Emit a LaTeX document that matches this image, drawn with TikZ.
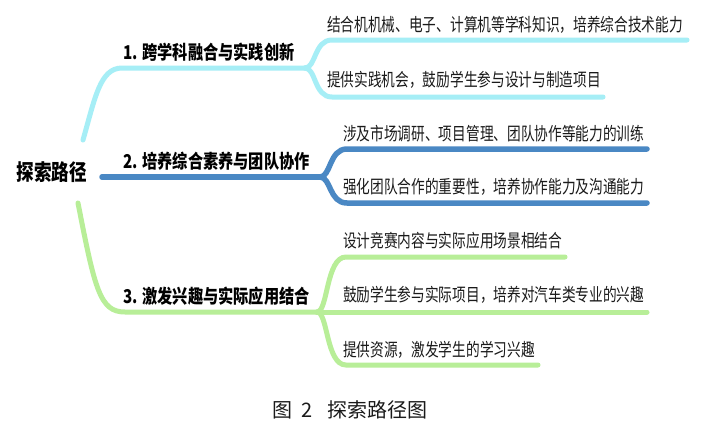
\documentclass[tikz,border=0pt]{standalone}
\usepackage{fontspec}
\newfontfamily\cjk[FakeStretch=0.76]{Noto Sans CJK SC}
\newfontfamily\cjkl[FakeStretch=0.8]{Noto Sans CJK SC}
\newfontfamily\cjkr[FakeStretch=0.8]{Noto Sans CJK SC}
\newfontfamily\cjkc{Noto Sans CJK SC}
\definecolor{cyanl}{HTML}{A6EEF6}
\definecolor{bluel}{HTML}{4A88C4}
\definecolor{greenl}{HTML}{B8EE98}
\definecolor{txt}{HTML}{1A1A1A}
\tikzset{
  leaf/.style={anchor=west, inner sep=0pt, text=txt, font=\cjk\fontsize{18}{18}\selectfont},
  blabel/.style={anchor=west, inner sep=0pt, text=black, font=\cjkl\bfseries\fontsize{19}{19}\selectfont},
  rootn/.style={inner sep=0pt, text=black, font=\cjkr\bfseries\fontsize{22}{22}\selectfont},
  cyanline/.style={draw=cyanl, line width=5pt, line cap=round},
  blueline/.style={draw=bluel, line width=5.5pt, line cap=round},
  greenline/.style={draw=greenl, line width=5pt, line cap=round}
}
\begin{document}
\begin{tikzpicture}[x=1pt,y=-1pt]
\useasboundingbox (0,0) rectangle (709,429);
\fill[white] (0,0) rectangle (709,429);
% root
\node[rootn] (root) at (52,172) {探索路径};
% coordinates
\coordinate (r1) at (83,140);
\coordinate (r2) at (102,177);
\coordinate (r3) at (78,203);
\coordinate (f1) at (305,68);
\coordinate (f2) at (320,177);
\coordinate (f3) at (317,312);
\coordinate (e11) at (687,40);
\coordinate (e12) at (603,97);
\coordinate (e21) at (647,149);
\coordinate (e22) at (647,203);
\coordinate (e31) at (565,257);
\coordinate (e32) at (647,312);
\coordinate (e33) at (538,365);
% branch 1
\draw[cyanline] (r1) .. controls (95,98) and (100,68) .. (122,68) -- (f1);
\draw[cyanline] (f1) .. controls (316,68) and (314,40) .. (332,40) -- (e11);
\draw[cyanline] (f1) .. controls (316,68) and (314,97) .. (332,97) -- (e12);
% branch 2
\draw[blueline] (r2) -- (f2);
\draw[blueline] (f2) .. controls (331,177) and (329,149) .. (347,149) -- (e21);
\draw[blueline] (f2) .. controls (331,177) and (329,203) .. (347,203) -- (e22);
% branch 3
\draw[greenline] (r3) .. controls (95,290) and (100,312) .. (125,312) -- (f3);
\draw[greenline] (f3) .. controls (328,312) and (326,257) .. (346,257) -- (e31);
\draw[greenline] (f3) -- (e32);
\draw[greenline] (f3) .. controls (328,312) and (326,365) .. (346,365) -- (e33);
% labels
\node[blabel] (b1) at (123,52) {1. 跨学科融合与实践创新};
\node[blabel] (b2) at (123,161) {2. 培养综合素养与团队协作};
\node[blabel] (b3) at (123,296) {3. 激发兴趣与实际应用结合};
% leaves
\node[leaf] (l11) at (327,25) {结合机机械、电子、计算机等学科知识，培养综合技术能力};
\node[leaf] (l12) at (327,80) {提供实践机会，鼓励学生参与设计与制造项目};
\node[leaf] (l21) at (343,134) {涉及市场调研、项目管理、团队协作等能力的训练};
\node[leaf] (l22) at (343,187) {强化团队合作的重要性，培养协作能力及沟通能力};
\node[leaf] (l31) at (343,241) {设计竞赛内容与实际应用场景相结合};
\node[leaf] (l32) at (343,295) {鼓励学生参与实际项目，培养对汽车类专业的兴趣};
\node[leaf] (l33) at (343,350) {提供资源，激发学生的学习兴趣};
% caption
\node[inner sep=0pt, text=txt, font=\cjkc\fontsize{20}{20}\selectfont] (cap) at (350,410) {图\hspace{0.45em}2\hspace{0.7em}探索路径图};
\end{tikzpicture}
\end{document}
